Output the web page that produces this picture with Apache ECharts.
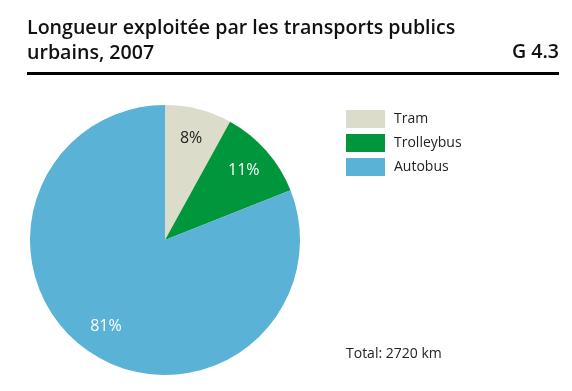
<!DOCTYPE html>
<html><head><meta charset="utf-8">
<script src="https://cdn.jsdelivr.net/npm/echarts@6/dist/echarts.min.js"></script>
<style>html,body{margin:0;padding:0;background:#fff}#c{width:572px;height:391px}</style>
</head><body><div id="c"></div>
<script>
const categories = ['Tram', 'Trolleybus', 'Autobus'];
const shares = [8, 11, 81];
const colors = ['#dcdccb', '#00963c', '#5ab2d6'];
const labelColors = ['#222222', '#ffffff', '#ffffff'];
const titleText = 'Longueur exploitée par les transports publics\nurbains, 2007';
const chartNo = 'G 4.3';
const totalText = 'Total: 2720 km';

const font = '"Open Sans", "Noto Sans", sans-serif';
const chart = echarts.init(document.getElementById('c'));
const data = categories.map((n, i) => ({name: n, value: shares[i], itemStyle: {color: colors[i]}}));
chart.setOption({
  animation: false,
  title: [{
    text: titleText, left: 22, top: 11, padding: 5,
    textStyle: {fontFamily: font, fontSize: 19.6, fontWeight: 600, color: '#111', lineHeight: 25}
  }, {
    text: chartNo, right: 8, top: 37,
    textStyle: {fontFamily: font, fontSize: 19.6, fontWeight: 600, color: '#111'}
  }],
  graphic: [
    {type: 'rect', shape: {x: 27, y: 72, width: 532, height: 3}, style: {fill: '#000'}},
    {type: 'text', left: 346, top: 347, style: {text: totalText, font: '14px ' + font, fill: '#222'}}
  ],
  legend: {
    orient: 'vertical', left: 346, top: 110, padding: 0, itemWidth: 39, itemHeight: 18, itemGap: 6,
    icon: 'rect', data: categories,
    textStyle: {fontFamily: font, fontSize: 14, color: '#222', padding: [0, 0, 0, 4]}
  },
  series: [{
    type: 'pie', center: [165, 240], radius: [0, 135], startAngle: 90, clockwise: true,
    label: {show: false}, labelLine: {show: false}, silent: true,
    itemStyle: {borderWidth: 0},
    data: data
  }, {
    type: 'pie', center: [165, 240], radius: [64, 140], startAngle: 90, clockwise: true,
    silent: true, legendHoverLink: false,
    itemStyle: {color: 'rgba(0,0,0,0)', borderWidth: 0},
    labelLine: {show: false},
    label: {
      show: true, position: 'inside',
      formatter: p => p.value + '%',
      fontFamily: font, fontSize: 16
    },
    data: categories.map((n, i) => ({name: n + ' ', value: shares[i],
      label: {color: labelColors[i]}}))
  }]
});
</script></body></html>
